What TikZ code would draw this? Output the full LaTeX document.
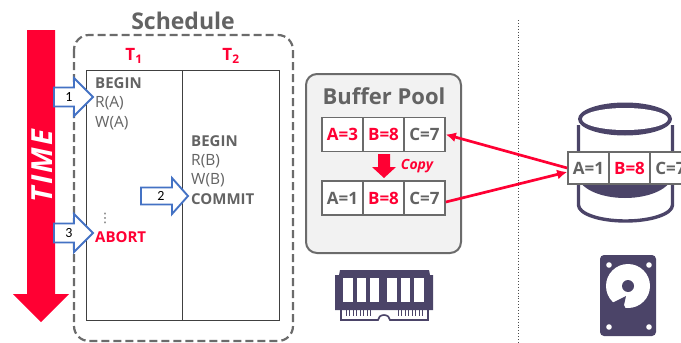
\documentclass[tikz,border=0pt]{standalone}
\usepackage{fontspec}
\setmainfont{Open Sans}
\newfontfamily\numfont{Carlito}
\newfontfamily\symfont{DejaVu Sans}
\definecolor{hotred}{HTML}{FF0033}
\definecolor{txtgray}{HTML}{636363}
\definecolor{boxgray}{HTML}{6B6B6B}
\definecolor{iconpurple}{HTML}{4B4468}
\definecolor{arrowblue}{HTML}{4472C4}
\usetikzlibrary{arrows.meta}
\tikzset{
    stmt/.style={anchor=west,inner sep=0pt,text=txtgray,font=\fontsize{15.5}{15.5}\selectfont},
    kw/.style={stmt,font=\fontsize{15}{15}\selectfont\bfseries},
    cell/.style={draw=boxgray,line width=1.7pt,fill=white,minimum width=41pt,minimum height=34pt,inner sep=0pt,text=txtgray,font=\fontsize{17}{17}\selectfont\bfseries},
    blockarrow/.style={draw=arrowblue,line width=1.9pt,fill=white,line join=miter},
    stepnum/.style={inner sep=0pt,text=black,font=\fontsize{14}{14}\selectfont\numfont},
    redline/.style={draw=hotred,line width=2.7pt,-{Latex[length=10pt,width=10pt]}},
}
\begin{document}
\begin{tikzpicture}[x=1pt,y=-1pt]
    \clip (0,0) rectangle (681,343);
    % time arrow
    \fill[hotred] (27,30) -- (55,30) -- (55,294) -- (69,294) -- (41,322) -- (13,294) -- (27,294) -- cycle;
    \node[rotate=90,inner sep=0pt,text=white,font=\fontsize{29}{29}\selectfont\bfseries\itshape\addfontfeature{LetterSpace=8}] (time) at (42,166) {TIME};

    % schedule
    \draw[boxgray,line width=2.2pt,dash pattern=on 8pt off 4pt,rounded corners=15pt] (74,35) rectangle (293,341);
    \node[inner sep=0pt,text=txtgray,font=\fontsize{23}{23}\selectfont\bfseries] (sched) at (183,21) {Schedule};
    \node[inner sep=0pt,text=hotred,font=\fontsize{17}{17}\selectfont\bfseries] (t1) at (134,56) {T\textsubscript{1}};
    \node[inner sep=0pt,text=hotred,font=\fontsize{17}{17}\selectfont\bfseries] (t2) at (231,56) {T\textsubscript{2}};
    \draw[black!75,line width=0.8pt] (86,70) rectangle (279,320);
    \draw[black!75,line width=0.8pt] (182,70) -- (182,320);

    \node[kw] (b1) at (95,83) {BEGIN};
    \node[stmt] (r1) at (95,103) {R(A)};
    \node[stmt] (w1) at (95,123) {W(A)};
    \node[kw] (b2) at (191,141) {BEGIN};
    \node[stmt] (r2) at (191,161) {R(B)};
    \node[stmt] (w2) at (191,180) {W(B)};
    \node[kw] (c2) at (191,199) {COMMIT};
    \node[inner sep=0pt,text=txtgray,font=\fontsize{13}{13}\selectfont\symfont] (dots) at (105,218) {⋮};
    \node[kw,text=hotred] (ab) at (95,237) {ABORT};

    % the three steps
    \foreach \xa/\xb/\xc/\yc/\sh/\hd/\num/\xn in {54/74/93/97/9.5/19/1/69, 141/172/188/196/8.5/18/2/161, 54/74/93/233/9.5/19/3/69}
    {
        \draw[blockarrow] (\xa,\yc-\sh) -- (\xb,\yc-\sh) -- (\xb,\yc-\hd) -- (\xc,\yc) -- (\xb,\yc+\hd) -- (\xb,\yc+\sh) -- (\xa,\yc+\sh) -- cycle;
        \node[stepnum] (s\num) at (\xn,\yc) {\num};
    }

    % buffer pool
    \draw[boxgray,fill=black!5,line width=2pt,rounded corners=11pt] (306,74) rectangle (461,253);
    \node[inner sep=0pt,text=txtgray,font=\fontsize{22}{22}\selectfont\bfseries] (pool) at (384,96) {Buffer Pool};
    \node[cell,text=hotred] (a3) at (342.5,134.5) {A=3};
    \node[cell,text=hotred] (b8) at (383.5,134.5) {B=8};
    \node[cell] (c7) at (424.5,134.5) {C=7};
    \node[cell] (a1) at (342.5,198) {A=1};
    \node[cell,text=hotred] (b8c) at (383.5,198) {B=8};
    \node[cell] (c7c) at (424.5,198) {C=7};
    \fill[hotred] (378,154) -- (390,154) -- (390,167) -- (396,167) -- (384,178) -- (372,167) -- (378,167) -- cycle;
    \node[inner sep=0pt,text=hotred,font=\fontsize{14}{14}\selectfont\bfseries\itshape] (copy) at (417,166) {Copy};

    % ram
    \fill[iconpurple] (335,275) -- (339,275) -- (340,270) -- (429,270) -- (430,275) -- (433,275) -- (433,310) -- (335,310) -- cycle;
    \foreach \xa/\xb in {343/353,357/366,370/379,387/397,401/410,414/424}
        \fill[white] (\xa,278) rectangle (\xb,302);
    \draw[iconpurple,line width=1.6pt] (341,310) -- (341,320) -- (378,320) arc[start angle=180,end angle=360,x radius=6,y radius=5] -- (428,320) -- (428,310);
    \foreach \xa in {346,349.5,353,356.5,360,363.5,367,370.5,398,401.5,405,408.5,412,415.5,419,422.5}
        \draw[iconpurple,line width=1pt] (\xa,310) -- (\xa,316);

    % divider
    \draw[black!70,line width=0.9pt,dotted] (518,20) -- (518,342);

    % database
    \draw[iconpurple,line width=3.4pt] (578.5,125) -- (578.5,205) arc[start angle=180,end angle=0,x radius=47,y radius=16] -- (672.5,125);
    \fill[iconpurple] (578,175) arc[start angle=180,end angle=0,x radius=47,y radius=23] -- (668,170) arc[start angle=0,end angle=180,x radius=43,y radius=14] -- cycle;
    \fill[iconpurple] (625,119) ellipse[x radius=47,y radius=16.5];
    \fill[white] (625,119) ellipse[x radius=43,y radius=11];
    \node[cell,minimum height=32pt] (da) at (588.5,168) {A=1};
    \node[cell,minimum height=32pt,text=hotred] (db) at (629.5,168) {B=8};
    \node[cell,minimum height=32pt] (dc) at (670.5,168) {C=7};

    % disk
    \fill[iconpurple,rounded corners=4pt] (600,255) rectangle (656,336);
    \foreach \xa/\ya in {609/265,649/265,609/327,649/327}
        \fill[white] (\xa,\ya) circle (2.8pt);
    \fill[white] (628,286) circle (22pt);
    \fill[iconpurple] (628,286) circle (6pt);
    \fill[iconpurple] (610,304) -- (626,296) -- (624,305) -- (627,312) -- (620,313) -- cycle;

    % reads and writes
    \draw[redline] (da.west) -- (c7.east);
    \draw[redline] ([yshift=-4pt]c7c.east) -- ([yshift=-4pt]da.west);
\end{tikzpicture}
\end{document}
